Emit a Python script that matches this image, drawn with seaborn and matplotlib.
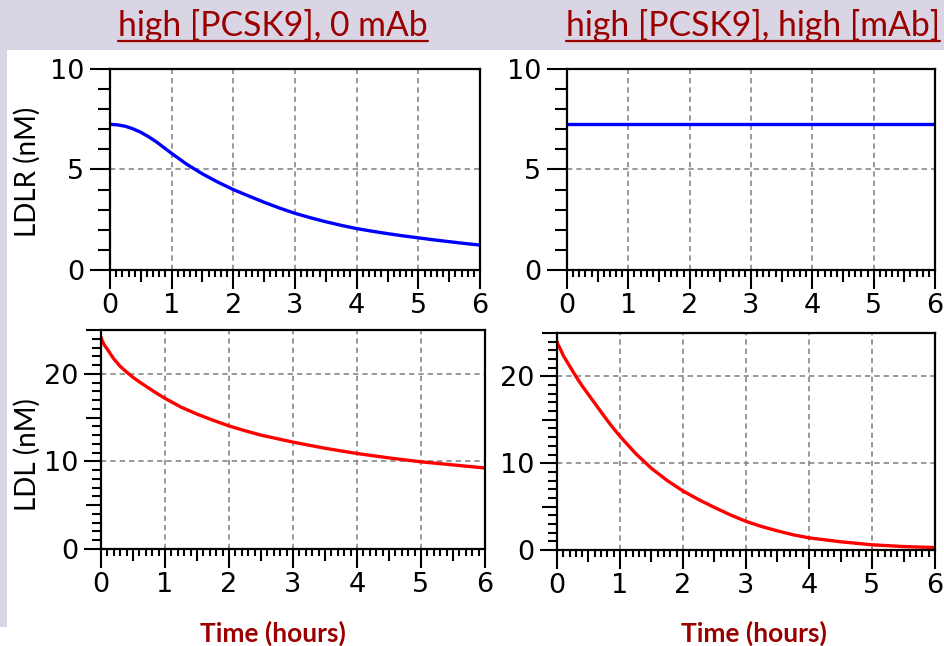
import numpy as np
import pandas as pd
import matplotlib
matplotlib.use("Agg")
import matplotlib.pyplot as plt
from matplotlib.ticker import MultipleLocator, FixedLocator
from matplotlib.patches import Rectangle
from matplotlib.lines import Line2D
import seaborn as sns

# ---- data -------------------------------------------------------------
time_ldlr = [0.0, 0.125, 0.25, 0.375, 0.5, 0.625, 0.75, 1.0, 1.25, 1.5, 1.75, 2.0,
             2.25, 2.5, 2.75, 3.0, 3.25, 3.5, 3.75, 4.0, 4.25, 4.5, 4.75, 5.0,
             5.25, 5.5, 5.75, 6.0]
ldlr_no_mab = [7.25, 7.22, 7.15, 7.02, 6.85, 6.63, 6.38, 5.8, 5.25, 4.78, 4.37, 4.0,
               3.68, 3.37, 3.08, 2.82, 2.6, 2.4, 2.22, 2.06, 1.93, 1.81, 1.7, 1.6,
               1.5, 1.41, 1.32, 1.24]
ldlr_high_mab = [7.25] * len(time_ldlr)

time_ldl = [0.0, 0.02, 0.05, 0.1, 0.2, 0.3, 0.4, 0.5, 0.625, 0.75, 0.875, 1.0, 1.25,
            1.5, 1.75, 2.0, 2.25, 2.5, 2.75, 3.0, 3.25, 3.5, 3.75, 4.0, 4.5, 5.0,
            5.5, 6.0]
ldl_no_mab = [24.2, 23.75, 23.3, 22.8, 21.7, 20.85, 20.2, 19.6, 18.95, 18.35, 17.75,
              17.2, 16.2, 15.4, 14.7, 14.05, 13.5, 13.0, 12.6, 12.2, 11.85, 11.5,
              11.2, 10.9, 10.4, 9.95, 9.6, 9.25]
ldl_high_mab = [24.0, 23.6, 23.2, 22.4, 21.2, 20.0, 18.9, 17.9, 16.65, 15.4, 14.2,
                13.1, 11.1, 9.4, 8.0, 6.8, 5.8, 4.9, 4.05, 3.3, 2.7, 2.2, 1.75, 1.4,
                0.95, 0.6, 0.4, 0.28]

panel_titles = ["high [PCSK9], 0 mAb", "high [PCSK9], high [mAb]"]
x_label = "Time (hours)"
y_labels = ["LDLR (nM)", "LDL (nM)"]
x_ticks = [0, 1, 2, 3, 4, 5, 6]
ldlr_ticks = [0, 5, 10]
ldl_ticks = [0, 10, 20]

# ---- style ------------------------------------------------------------
sns.set_style("ticks")
plt.rcParams["font.family"] = ["DejaVu Sans"]
plt.rcParams["xtick.color"] = "black"
plt.rcParams["ytick.color"] = "black"
plt.rcParams["xtick.labelcolor"] = "black"
plt.rcParams["ytick.labelcolor"] = "black"

W, H = 945, 646
fig = plt.figure(figsize=(W / 100, H / 100), dpi=100, facecolor="white")

lavender = "#d9d5e5"
fig.patches.append(Rectangle((0, 1 - 50 / H), 1, 50 / H, transform=fig.transFigure,
                             facecolor=lavender, edgecolor="none", zorder=0))
fig.patches.append(Rectangle((0, 1 - 627 / H), 7 / W, 627 / H, transform=fig.transFigure,
                             facecolor=lavender, edgecolor="none", zorder=0))


def px_axes(left, top, right, bottom):
    return fig.add_axes([left / W, 1 - bottom / H, (right - left) / W, (bottom - top) / H])


ax_tl = px_axes(110, 69, 480, 270)
ax_tr = px_axes(567, 69, 935, 270)
ax_bl = px_axes(101, 330, 485, 549)
ax_br = px_axes(557, 333, 935, 550)

PT = 0.72  # points per pixel at 100 dpi


def style_axis(ax, yticks, ymax, y_major_len, y_mid_len, y_minor_len, y_mid_every):
    ax.set_xlim(0, 6)
    ax.set_ylim(0, ymax)
    ax.xaxis.set_major_locator(FixedLocator(x_ticks))
    ax.xaxis.set_minor_locator(MultipleLocator(0.1))
    ax.yaxis.set_major_locator(FixedLocator(yticks))
    ax.yaxis.set_minor_locator(MultipleLocator(1))
    ax.set_axisbelow(True)
    ax.grid(True, which="major", color="#888888", linestyle=(0, (3.2, 2.4)), linewidth=1.2)
    for s in ax.spines.values():
        s.set_visible(True)
        s.set_color("black")
        s.set_linewidth(1.6)
    ax.tick_params(axis="both", which="both", direction="out", width=1.5, color="black",
                   labelcolor="black", labelsize=19.5, top=False, right=False)
    ax.tick_params(axis="x", which="major", length=19 * PT, pad=3)
    ax.tick_params(axis="x", which="minor", length=7 * PT)
    ax.tick_params(axis="y", which="major", length=y_major_len * PT, pad=4)
    ax.tick_params(axis="y", which="minor", length=y_minor_len * PT)
    ax.set_xlabel("")
    ax.set_ylabel("")

    # half-hour ticks are a little longer than the tenths
    xlocs = ax.xaxis.get_minorticklocs()
    for loc, t in zip(xlocs, ax.xaxis.get_minor_ticks(len(xlocs))):
        if abs(loc * 10 % 10 - 5) < 1e-6:
            t.tick1line.set_markersize(12 * PT)
    if y_mid_every:
        ylocs = ax.yaxis.get_minorticklocs()
        for loc, t in zip(ylocs, ax.yaxis.get_minor_ticks(len(ylocs))):
            if abs(round(loc) % y_mid_every) < 1e-6:
                t.tick1line.set_markersize(y_mid_len * PT)


ldlr_df = pd.DataFrame({"time": time_ldlr, "no_mab": ldlr_no_mab, "high_mab": ldlr_high_mab})
ldl_df = pd.DataFrame({"time": time_ldl, "no_mab": ldl_no_mab, "high_mab": ldl_high_mab})

for ax, col in [(ax_tl, "no_mab"), (ax_tr, "high_mab")]:
    sns.lineplot(data=ldlr_df, x="time", y=col, ax=ax, color="#0000ff", linewidth=2.4)
    style_axis(ax, ldlr_ticks, 10, 20, 12, 12, None)

for ax, col in [(ax_bl, "no_mab"), (ax_br, "high_mab")]:
    sns.lineplot(data=ldl_df, x="time", y=col, ax=ax, color="#ff0000", linewidth=2.4)
    style_axis(ax, ldl_ticks, 25, 17, 15, 9, 5)

# ---- text -------------------------------------------------------------
title_color = "#9b0000"
title_font = ["Lato", "DejaVu Sans"]
title_objs = []
for cx, txt in [(273, panel_titles[0]), (753, panel_titles[1])]:
    t = fig.text(cx / W, 1 - 36 / H, txt, ha="center", va="baseline", fontsize=24.3,
                 color=title_color, family=title_font)
    title_objs.append(t)

for cx in (273, 754):
    fig.text(cx / W, 1 - 633 / H, x_label, ha="center", va="center", fontsize=19,
             fontweight="bold", color=title_color, family=title_font)

fig.text(27 / W, 1 - 172 / H, y_labels[0], rotation=90, ha="center", va="center",
         fontsize=20, color="black", family=title_font)
fig.text(27 / W, 1 - 455 / H, y_labels[1], rotation=90, ha="center", va="center",
         fontsize=20, color="black", family=title_font)

# underline the panel titles
fig.canvas.draw()
renderer = fig.canvas.get_renderer()
for t in title_objs:
    bb = t.get_window_extent(renderer)
    y = 1 - 41 / H
    fig.add_artist(Line2D([bb.x0 / W, bb.x1 / W], [y, y], transform=fig.transFigure,
                          color=title_color, linewidth=1.6))

fig.savefig("out.png", dpi=100, facecolor="white")
